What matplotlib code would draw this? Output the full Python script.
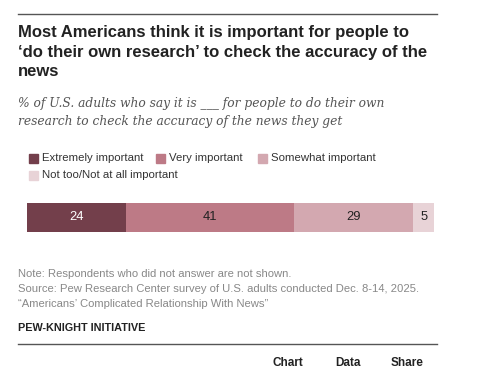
import matplotlib.pyplot as plt
from matplotlib.patches import Rectangle

# data
categories = ["Extremely important", "Very important", "Somewhat important",
              "Not too/Not at all important"]
values = [24, 41, 29, 5]
colors = ["#733f4b", "#bd7a86", "#d3a8b0", "#e8d3d7"]
label_colors = ["white", "#222222", "#222222", "#222222"]

W, H = 478, 392
fig = plt.figure(figsize=(W / 100, H / 100), dpi=100)

def px(x, y):
    # pixel coords (top-left origin) -> figure fraction
    return x / W, 1 - y / H

def hline(y, x0=18, x1=437):
    fig.add_artist(plt.Line2D([x0 / W, x1 / W], [1 - y / H, 1 - y / H],
                              color="#555555", lw=1.0))

sans = "Liberation Sans"

#### top rule + title
hline(14)
title_lines = ["Most Americans think it is important for people to",
               "\u2018do their own research\u2019 to check the accuracy of the",
               "news"]
for y, t in zip([33, 52.5, 72], title_lines):
    fig.text(*px(18, y), t, fontsize=12, fontweight="bold", family=sans,
             color="#222222", va="center", ha="left")

#### subtitle
sub_lines = ["% of U.S. adults who say it is ___ for people to do their own",
             "research to check the accuracy of the news they get"]
for y, t in zip([104, 122], sub_lines):
    fig.text(*px(18, y), t, fontsize=8.8, style="italic", family="DejaVu Serif",
             color="#555555", va="center", ha="left")

#### legend
leg_pos = [(29, 158), (156, 158), (258, 158), (29, 175)]
for (lx, ly), cat, col in zip(leg_pos, categories, colors):
    fig.add_artist(Rectangle(px(lx, ly + 4.5), 9 / W, 9 / H, color=col,
                             transform=fig.transFigure))
    fig.text(*px(lx + 13, ly), cat, fontsize=8.2, family=sans,
             color="#333333", va="center", ha="left")

#### the stacked bar
ax = fig.add_axes([27 / W, 1 - 232 / H, 407 / W, 29 / H])
left = 0
for v, col, tc in zip(values, colors, label_colors):
    ax.barh(0, v, left=left, color=col, height=1.0, edgecolor="none")
    ax.text(left + v / 2, 0, str(v), ha="center", va="center",
            fontsize=9.3, family=sans, color=tc)
    left += v
ax.set_xlim(0, sum(values))
ax.set_ylim(-0.5, 0.5)
ax.axis("off")

#### notes
notes = ["Note: Respondents who did not answer are not shown.",
         "Source: Pew Research Center survey of U.S. adults conducted Dec. 8-14, 2025.",
         "\u201cAmericans\u2019 Complicated Relationship With News\u201d"]
for y, t in zip([274, 289, 304], notes):
    fig.text(*px(18, y), t, fontsize=8.1, family=sans, color="#888888",
             va="center", ha="left")

fig.text(*px(18, 328), "PEW-KNIGHT INITIATIVE", fontsize=7.8, fontweight="bold",
         family=sans, color="#222222", va="center", ha="left")
hline(344)

for x, t in [(288, "Chart"), (348, "Data"), (407, "Share")]:
    fig.text(*px(x, 363), t, fontsize=8.5, fontweight="bold", family=sans,
             color="#222222", va="center", ha="center")

fig.savefig("out.png", dpi=100)
